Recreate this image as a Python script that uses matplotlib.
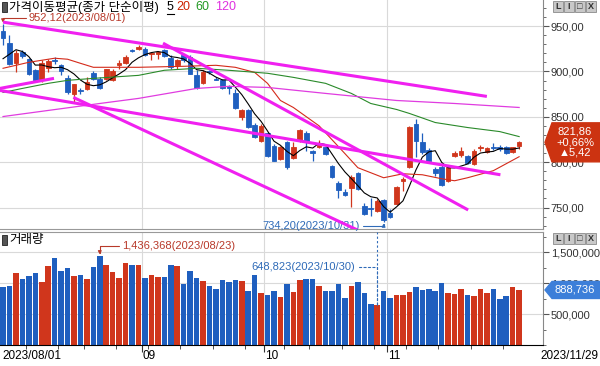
import matplotlib
matplotlib.use("Agg")
import matplotlib.pyplot as plt
import matplotlib.transforms as mtrans
from matplotlib.patches import Polygon, Rectangle
from matplotlib.lines import Line2D
from matplotlib.ticker import FixedLocator, MultipleLocator, FuncFormatter
import numpy as np
import pandas as pd

plt.rcParams['font.family'] = ['Liberation Sans', 'Noto Sans CJK KR', 'DejaVu Sans']

# ---------------- data ----------------
krx_holidays = ['2023-08-15', '2023-09-28', '2023-09-29', '2023-10-02', '2023-10-03', '2023-10-09']
dates = pd.bdate_range('2023-08-01', '2023-11-29', freq='C', holidays=krx_holidays)

opens = [944.8, 931.5, 909.8, 921.6, 913.5, 901.3, 890.2, 903.9, 913.1, 906.8,
         893.2, 874.7, 879.9, 881.0, 898.3, 892.0, 892.0, 890.2, 906.8, 909.4,
         924.2, 925.3, 925.3, 919.0, 919.7, 923.4, 915.3, 907.5, 917.9, 916.0,
         895.7, 887.2, 900.5, 892.0, 890.9, 883.6, 876.2, 849.6, 857.7, 841.5,
         823.8, 831.9, 818.2, 803.5, 821.9, 804.6, 823.8, 831.9, 812.7, 816.4,
         816.4, 796.1, 776.5, 767.3, 771.3, 787.6, 751.4, 749.2, 746.2, 758.0,
         743.6, 753.6, 778.7, 794.2, 842.2, 821.9, 813.4, 792.4, 795.0, 778.7,
         807.1, 808.3, 807.1, 797.9, 815.3, 810.8, 817.1, 817.1, 817.1, 810.8,
         817.5]
highs = [952.12, 940.0, 923.4, 923.4, 915.3, 903.1, 912.3, 914.2, 916.0, 908.7,
         895.7, 886.5, 882.1, 893.9, 900.5, 893.9, 903.1, 903.1, 912.3, 917.9,
         925.3, 929.0, 927.1, 921.6, 922.7, 925.3, 917.9, 914.2, 919.7, 917.9,
         901.3, 901.3, 902.0, 893.9, 892.0, 884.7, 881.0, 858.8, 858.8, 842.9,
         842.2, 833.0, 820.1, 818.2, 823.8, 821.9, 836.7, 834.8, 813.4, 824.5,
         819.3, 796.8, 779.5, 770.2, 786.1, 788.7, 755.2, 761.0, 759.2, 759.2,
         748.1, 773.9, 783.9, 840.4, 847.7, 831.9, 815.6, 795.0, 797.2, 795.0,
         812.7, 816.4, 808.3, 814.5, 819.3, 816.4, 820.8, 818.8, 818.2, 817.1,
         823.5]
lows = [929.0, 906.8, 899.4, 915.3, 895.7, 889.5, 888.4, 899.4, 908.7, 895.7,
        875.4, 866.2, 874.7, 879.1, 890.2, 881.0, 890.9, 889.5, 903.1, 907.9,
        921.6, 923.4, 916.8, 913.1, 914.2, 916.0, 903.1, 903.1, 910.5, 896.8,
        881.0, 885.8, 896.8, 890.2, 881.0, 875.4, 858.8, 846.6, 837.8, 826.7,
        821.9, 806.0, 800.9, 802.3, 792.4, 803.5, 821.9, 812.7, 800.9, 815.6,
        808.3, 782.4, 760.3, 762.8, 750.7, 769.1, 742.2, 740.7, 745.5, 734.2,
        738.1, 752.9, 768.4, 793.5, 805.3, 808.9, 799.8, 785.0, 773.9, 777.6,
        805.3, 805.3, 797.9, 797.2, 812.7, 809.7, 813.4, 812.7, 808.9, 809.7,
        815.0]
closes = [937.4, 908.7, 920.8, 917.1, 897.6, 890.9, 909.4, 911.2, 911.6, 900.2,
          877.3, 885.8, 878.0, 888.4, 892.0, 882.1, 902.4, 900.2, 909.4, 916.0,
          922.7, 927.1, 917.9, 920.5, 921.6, 916.8, 905.0, 913.1, 912.3, 897.6,
          882.1, 899.4, 899.0, 890.9, 882.1, 882.1, 859.9, 857.7, 839.3, 827.4,
          840.4, 807.1, 801.6, 816.4, 794.2, 816.4, 835.6, 821.9, 809.7, 820.8,
          809.0, 783.1, 769.1, 764.0, 783.9, 770.2, 743.3, 748.1, 757.3, 735.9,
          739.6, 772.8, 781.3, 839.3, 823.8, 810.8, 801.6, 787.6, 775.0, 794.2,
          809.7, 812.0, 798.7, 812.7, 817.1, 815.3, 815.6, 814.5, 809.7, 816.44,
          821.86]
volumes = [934000, 950000, 1170000, 1071000, 1115000, 1165000, 1016000, 1280000, 1400000, 1198000,
           1236000, 1115000, 1132000, 1071000, 1253000, 1436368, 1297000, 1187000, 1088000, 1330000,
           1297000, 1297000, 1088000, 1132000, 1099000, 1099000, 1297000, 1280000, 988000, 1198000,
           1077000, 1033000, 950000, 906000, 1044000, 1016000, 1044000, 1033000, 868000, 1132000,
           835000, 813000, 868000, 769000, 988000, 851000, 1049000, 1071000, 1071000, 950000,
           868000, 879000, 988000, 758000, 950000, 1016000, 835000, 659000, 648823, 868000,
           758000, 802000, 813000, 851000, 934000, 890000, 912000, 868000, 1000000, 835000,
           824000, 907000, 802000, 786000, 901000, 835000, 912000, 742000, 791000, 934000,
           888736]

# closes of the four sessions before Aug 1 (needed for the 5-day average)
prior_closes = [884.0, 896.0, 927.0, 926.0]

# 20 / 60 / 120-day averages read at some sessions
ma20_idx = [0, 4, 8, 10, 12, 14, 21, 28, 33, 36, 39, 41, 43, 45, 49, 53, 55, 59, 62, 65, 68, 70, 72, 76, 80]
ma20_val = [903.5, 910.1, 914.6, 913.5, 909.0, 904.6, 904.6, 905.7, 906.8, 904.6, 899.0, 886.9, 868.0,
            860.3, 840.0, 809.4, 793.9, 782.8, 787.2, 786.1, 781.7, 779.5, 782.8, 790.6, 806.0]
ma60_idx = [0, 3, 7, 10, 14, 21, 25, 30, 35, 41, 45, 50, 54, 57, 61, 63, 67, 72, 77, 80]
ma60_val = [876.9, 881.3, 886.9, 890.2, 892.4, 895.7, 901.3, 903.5, 901.3, 898.0, 893.5, 886.9,
            875.8, 864.7, 858.1, 853.7, 843.7, 838.2, 833.7, 828.2]
ma120_idx = [0, 15, 21, 30, 35, 41, 50, 61, 70, 80]
ma120_val = [850.3, 864.7, 870.3, 881.3, 883.6, 882.4, 875.8, 868.0, 864.7, 860.3]

# hand-drawn trend lines: (session0, price0, session1, price1)
trend_lines = [(0.0, 954.4, 75.0, 872.5),
               (-0.5, 881.3, 7.9, 892.4),
               (-0.5, 879.1, 77.1, 786.1),
               (10.9, 871.4, 55.3, 724.0),
               (24.8, 931.2, 72.1, 747.3)]

# ---------------- styles ----------------
RED = '#d0361c'
BLUE = '#1f5fbf'
GRID = '#d9d9d9'

def fx(px):
    return px / 600.0

def fy(py):
    return 1 - py / 366.0

fig = plt.figure(figsize=(6, 3.66), dpi=100)
ax = fig.add_axes([0, fy(229), fx(543), 229 / 366])
axv = fig.add_axes([0, fy(345), fx(543), (345 - 232) / 366])

o = np.array(opens)
h = np.array(highs)
l = np.array(lows)
c = np.array(closes)
v = np.array(volumes)
x = np.arange(len(dates))
col = np.where(c >= o, RED, BLUE)

# ---------------- price panel ----------------
ax.vlines(x, l, h, color=col, lw=0.9, zorder=2)
ax.bar(x, np.abs(c - o), bottom=np.minimum(o, c), width=0.72, color=col,
       edgecolor=col, lw=0.6, zorder=2)

ma5 = pd.Series(prior_closes + closes).rolling(5).mean().values[len(prior_closes):]
ax.plot(x, ma5, color='black', lw=0.8, zorder=3)
ax.plot(ma20_idx, ma20_val, color='#d42a1a', lw=0.8, zorder=3)
ax.plot(ma60_idx, ma60_val, color='#2a8a2a', lw=0.8, zorder=3)
ax.plot(ma120_idx, ma120_val, color='#e03ce0', lw=0.9, zorder=3)
for x0, y0, x1, y1 in trend_lines:
    ax.plot([x0, x1], [y0, y1], color='#f020f0', lw=2.2, solid_capstyle='butt', zorder=4)

ax.set_xlim(-0.47, 83.7)
ax.set_ylim(726.3, 978.8)

month_starts = [i for i in range(1, len(dates)) if dates[i].month != dates[i - 1].month]
week_starts = [i for i in range(1, len(dates)) if dates[i].weekday() < dates[i - 1].weekday()]
bounds = [i - 0.5 for i in month_starts]

for a in (ax, axv):
    for b in bounds:
        a.axvline(b, color=GRID, lw=0.8, zorder=0)
    a.set_facecolor('white')
    a.spines['left'].set_visible(False)
    a.spines['right'].set_color('#888888')

ax.spines['top'].set_visible(False)
ax.spines['bottom'].set_color('#999999')
ax.yaxis.tick_right()
ax.yaxis.set_major_locator(FixedLocator([750, 800, 850, 900, 950]))
ax.yaxis.set_minor_locator(MultipleLocator(10))
ax.yaxis.set_major_formatter(FuncFormatter(lambda val, pos: f"{val:.2f}".replace('.', ',')))
ax.tick_params(axis='y', which='major', length=4, color='#555555', labelsize=8, pad=1.5,
               labelcolor='#333333')
ax.tick_params(axis='y', which='minor', length=2.5, color='#555555')
ax.tick_params(axis='x', which='both', bottom=False, labelbottom=False)
ax.grid(axis='y', which='major', color=GRID, lw=0.8, zorder=0)

# max / min annotations
imax = int(np.argmax(h))
ax.annotate(f"{h[imax]:.2f}".replace('.', ',') + dates[imax].strftime('(%Y/%m/%d)'),
            xy=(imax, h[imax]), xytext=(18.5, 4.5), textcoords='offset points',
            ha='left', va='center', fontsize=8, color='#b8392a',
            arrowprops=dict(arrowstyle='-|>', mutation_scale=5, color='#b8392a', lw=0.8,
                            shrinkA=0, shrinkB=1,
                            connectionstyle='angle,angleA=0,angleB=90,rad=0'))
imin = int(np.argmin(l))
ax.annotate(f"{l[imin]:.2f}".replace('.', ',') + dates[imin].strftime('(%Y/%m/%d)'),
            xy=(imin, l[imin]), xytext=(-17, -3), textcoords='offset points',
            ha='right', va='center', fontsize=8, color='#2f6bb8',
            arrowprops=dict(arrowstyle='-|>', mutation_scale=5, color='#2f6bb8', lw=0.8,
                            shrinkA=0, shrinkB=1,
                            connectionstyle='angle,angleA=0,angleB=90,rad=0'))

# ---------------- volume panel ----------------
axv.bar(x, v, width=0.86, color=col, zorder=2)
axv.set_xlim(-0.47, 83.7)
axv.set_ylim(0, 1825000)
axv.spines['top'].set_color('#999999')
axv.spines['bottom'].set_color('black')
axv.yaxis.tick_right()
axv.yaxis.set_major_locator(FixedLocator([500000, 1000000, 1500000]))
axv.yaxis.set_minor_locator(MultipleLocator(250000))
axv.yaxis.set_major_formatter(FuncFormatter(lambda val, pos: f"{int(val):,}"))
axv.tick_params(axis='y', which='major', length=4, color='#555555', labelsize=8, pad=1.5,
                labelcolor='#333333')
axv.tick_params(axis='y', which='minor', length=2.5, color='#555555')
axv.grid(axis='y', which='major', color=GRID, lw=0.8, zorder=0)
axv.set_xticks(bounds)
axv.set_xticks([i - 0.5 for i in week_starts], minor=True)
axv.tick_params(axis='x', which='major', length=5, color='#333333', labelbottom=False)
axv.tick_params(axis='x', which='minor', length=3, color='#333333')

ivmax = int(np.argmax(v))
axv.annotate(f"{v[ivmax]:,}" + dates[ivmax].strftime('(%Y/%m/%d)'),
             xy=(ivmax, v[ivmax]), xytext=(15.8, 7.6), textcoords='offset points',
             ha='left', va='center', fontsize=8, color='#b8392a',
             arrowprops=dict(arrowstyle='-|>', mutation_scale=5, color='#b8392a', lw=0.8,
                             shrinkA=0, shrinkB=1,
                             connectionstyle='angle,angleA=0,angleB=90,rad=0'))
# session marked on the chart with a dashed guide (2023/10/30)
iv_low = list(dates.strftime('%Y/%m/%d')).index('2023/10/30')
axv.vlines(iv_low, v[iv_low], 1825000, colors='#2f6bb8', lw=0.8, linestyles=(0, (2, 2)), zorder=3)
axv.annotate(f"{v[iv_low]:,}" + dates[iv_low].strftime('(%Y/%m/%d)'),
             xy=(iv_low, v[iv_low]), xytext=(-16, 27.5), textcoords='offset points',
             ha='right', va='center', fontsize=8, color='#2f6bb8',
             arrowprops=dict(arrowstyle='-', color='#2f6bb8', lw=0.8, linestyle=(0, (2, 2)),
                             shrinkA=1, shrinkB=0,
                             connectionstyle='angle,angleA=0,angleB=90,rad=0'))

# date strip labels
date_tr = mtrans.blended_transform_factory(axv.transData, axv.transAxes)
for i in month_starts:
    axv.text(i - 0.35, -0.1, dates[i].strftime('%m'), transform=date_tr, ha='left', va='center',
             fontsize=8.5, color='black')
fig.text(fx(2), fy(356), dates[0].strftime('%Y/%m/%d'), ha='left', va='center', fontsize=8.5)
fig.text(fx(598), fy(356), dates[-1].strftime('%Y/%m/%d'), ha='right', va='center', fontsize=8.5)

# ---------------- headers ----------------
renderer = fig.canvas.get_renderer()

def header(y_px, parts):
    fig.add_artist(Rectangle((fx(2), fy(y_px + 5)), 5 / 600, 10 / 366, transform=fig.transFigure,
                             facecolor='#555555', edgecolor='#222222', lw=0.6))
    xpos = fx(9)
    for s, colr, gap, underline in parts:
        t = fig.text(xpos, fy(y_px), s, ha='left', va='center', fontsize=9, color=colr)
        bb = t.get_window_extent(renderer)
        if underline:
            fig.add_artist(Line2D([bb.x0 / 600, bb.x1 / 600], [fy(y_px + 6.5)] * 2,
                                  transform=fig.transFigure, color=colr, lw=0.8))
        xpos = (bb.x1 + gap) / 600.0

header(7, [('가격이동평균(종가 단순이평)', 'black', 8, False), ('5', 'black', 3, True),
           ('20', '#cc2200', 5, False), ('60', '#229922', 5, False), ('120', '#e030e0', 0, False)])
header(240, [('거래량', 'black', 0, False)])

# window buttons
for y0 in (1, 233):
    for k, s in enumerate(['L', 'I', '□', 'X']):
        x0 = 553 + k * 11
        fig.add_artist(Rectangle((fx(x0), fy(y0 + 11)), 10 / 600, 11 / 366, transform=fig.transFigure,
                                 facecolor='#c8c8c8', edgecolor='#8a8a8a', lw=0.6))
        fig.text(fx(x0 + 5), fy(y0 + 5.5), s, ha='center', va='center', fontsize=6.5,
                 color='#333333', fontweight='bold')

# last-value tags on the right axis
def tag(axis, value, lines, colr, half_h):
    yc = axis.transData.transform((0, value))[1] / 366.0
    hh = half_h / 366.0
    fig.add_artist(Polygon([(fx(545), yc), (fx(552), yc + hh), (1.0, yc + hh), (1.0, yc - hh),
                            (fx(552), yc - hh)], closed=True, transform=fig.transFigure,
                           facecolor=colr, edgecolor=colr, zorder=5))
    fig.text(fx(575), yc, lines, ha='center', va='center', fontsize=8, color='white',
             linespacing=1.05, zorder=6, family=['Liberation Sans', 'DejaVu Sans'])

chg = c[-1] - c[-2]
pct = chg / c[-2] * 100
tag(ax, c[-1], f"{c[-1]:.2f}".replace('.', ',') + "\n" + f"{pct:+.2f}%".replace('.', ',')
    + "\n" + ("▲" if chg >= 0 else "▼") + f"{abs(chg):.2f}".replace('.', ','), '#cc3311', 19.5)
tag(axv, v[-1], f"{v[-1]:,}", '#3d7fd9', 8.5)

fig.savefig('out.png', dpi=100)
